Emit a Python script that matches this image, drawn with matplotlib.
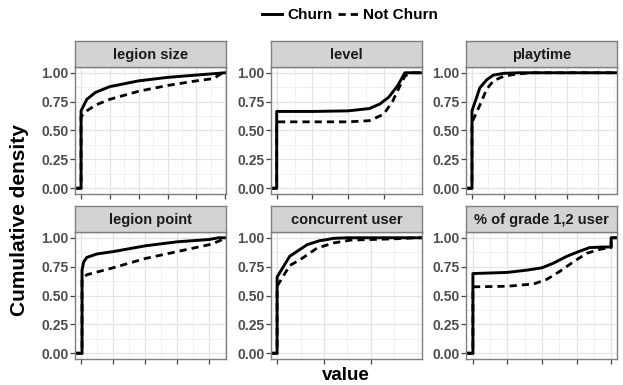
import matplotlib
matplotlib.use('Agg')
import matplotlib.pyplot as plt
from matplotlib.lines import Line2D
from matplotlib.ticker import MultipleLocator

plt.rcParams['font.family'] = ['Liberation Sans', 'DejaVu Sans']
plt.rcParams['font.weight'] = 'bold'

# panel titles (row by row)
panels = ['legion size', 'level', 'playtime',
          'legion point', 'concurrent user', '% of grade 1,2 user']

# x values in tick units (one unit = one x tick)
ls_x_churn = [-0.21, 0, 0, 0.2, 0.5, 1, 2, 3, 4, 5, 5.03]
ls_y_churn = [0, 0, 0.67, 0.77, 0.83, 0.88, 0.93, 0.96, 0.98, 1.0, 1.0]
ls_x_not = [-0.21, 0, 0, 0.2, 0.5, 1, 2, 3, 4, 4.6, 4.85, 5.03]
ls_y_not = [0, 0, 0.62, 0.67, 0.72, 0.77, 0.84, 0.89, 0.93, 0.95, 0.99, 1.0]

lv_x_churn = [-0.16, 0, 0, 1, 2, 2.6, 2.9, 3.15, 3.4, 3.6, 4.08]
lv_y_churn = [0, 0, 0.665, 0.665, 0.67, 0.69, 0.73, 0.79, 0.89, 1.0, 1.0]
lv_x_not = [-0.16, 0, 0, 1, 2, 2.6, 3.0, 3.25, 3.45, 3.6, 3.75, 4.08]
lv_y_not = [0, 0, 0.575, 0.575, 0.575, 0.585, 0.64, 0.75, 0.88, 0.97, 1.0, 1.0]

pt_x_churn = [-0.19, 0, 0, 0.25, 0.47, 0.68, 1.0, 1.5, 4.6]
pt_y_churn = [0, 0, 0.67, 0.87, 0.94, 0.98, 0.995, 1.0, 1.0]
pt_x_not = [-0.19, 0, 0, 0.25, 0.47, 0.68, 1.0, 1.43, 1.95, 4.6]
pt_y_not = [0, 0, 0.57, 0.72, 0.86, 0.93, 0.97, 0.99, 1.0, 1.0]

lp_x_churn = [-0.19, 0.03, 0.03, 0.08, 0.18, 0.5, 1, 2, 3, 4, 4.3, 4.53]
lp_y_churn = [0, 0, 0.72, 0.79, 0.83, 0.86, 0.88, 0.93, 0.965, 0.985, 1.0, 1.0]
lp_x_not = [-0.19, 0.03, 0.03, 0.18, 1, 2, 3, 4, 4.3, 4.53]
lp_y_not = [0, 0, 0.64, 0.68, 0.74, 0.82, 0.88, 0.94, 0.97, 1.0]

cu_x_churn = [-0.13, 0, 0, 0.27, 0.64, 0.91, 1.0, 1.2, 1.5, 3.09]
cu_y_churn = [0, 0, 0.66, 0.84, 0.94, 0.975, 0.98, 0.995, 1.0, 1.0]
cu_x_not = [-0.13, 0, 0, 0.27, 0.49, 0.85, 1.2, 1.57, 2.0, 2.45, 2.98, 3.09]
cu_y_not = [0, 0, 0.58, 0.76, 0.81, 0.91, 0.955, 0.98, 0.985, 0.99, 1.0, 1.0]

gr_x_churn = [-0.2, 0, 0, 1, 1.57, 2, 2.33, 2.72, 3.1, 3.38, 3.77, 4.0, 4.0, 4.17]
gr_y_churn = [0, 0, 0.69, 0.70, 0.72, 0.74, 0.78, 0.84, 0.885, 0.915, 0.92, 0.92, 1.0, 1.0]
gr_x_not = [-0.2, 0, 0, 1, 1.76, 2.14, 2.52, 2.9, 3.29, 3.67, 4.0, 4.0, 4.17]
gr_y_not = [0, 0, 0.575, 0.58, 0.6, 0.64, 0.71, 0.79, 0.865, 0.90, 0.915, 1.0, 1.0]

churn_data = [(ls_x_churn, ls_y_churn), (lv_x_churn, lv_y_churn), (pt_x_churn, pt_y_churn),
              (lp_x_churn, lp_y_churn), (cu_x_churn, cu_y_churn), (gr_x_churn, gr_y_churn)]
not_data = [(ls_x_not, ls_y_not), (lv_x_not, lv_y_not), (pt_x_not, pt_y_not),
            (lp_x_not, lp_y_not), (cu_x_not, cu_y_not), (gr_x_not, gr_y_not)]

# x range and number of ticks for each panel (free x scales)
x_limits = [(-0.21, 5.03), (-0.16, 4.08), (-0.19, 4.6),
            (-0.19, 4.53), (-0.13, 3.09), (-0.2, 4.17)]
x_nticks = [6, 4, 5, 5, 3, 5]
y_ticks = [0, 0.25, 0.5, 0.75, 1.0]
y_labels = ['0.00', '0.25', '0.50', '0.75', '1.00']

W, H = 623, 385
fig = plt.figure(figsize=(W / 100, H / 100), dpi=100)

col_left = [75, 271, 466]
col_w = 151
row_top = [67, 232]
row_h = 127
strip_h = 26

dash = (0, (2.6, 1.8))

for i, name in enumerate(panels):
    r, c = divmod(i, 3)
    left = col_left[c]
    top = row_top[r]
    ax = fig.add_axes([left / W, 1 - (top + row_h) / H, col_w / W, row_h / H])
    ax.set_xlim(*x_limits[i])
    ax.set_ylim(-0.05, 1.05)
    ax.set_xticks(range(x_nticks[i]))
    ax.xaxis.set_minor_locator(MultipleLocator(0.5))
    ax.set_yticks(y_ticks)
    ax.yaxis.set_minor_locator(MultipleLocator(0.125))
    ax.set_xticklabels([])
    ax.set_yticklabels(y_labels)
    ax.grid(True, which='major', color='#e3e3e3', lw=0.9)
    ax.grid(True, which='minor', color='#eeeeee', lw=0.6)
    ax.set_axisbelow(True)
    ax.tick_params(which='major', length=3.5, width=0.9, color='#444444',
                   labelsize=10, labelcolor='#4d4d4d', pad=1)
    ax.tick_params(which='minor', length=0)
    for s in ax.spines.values():
        s.set_color('#7f7f7f')
        s.set_linewidth(1.0)

    xc, yc = churn_data[i]
    xn, yn = not_data[i]
    ax.plot(xn, yn, color='black', lw=2.0, linestyle=dash)
    ax.plot(xc, yc, color='black', lw=2.1)

    # facet strip
    sx = fig.add_axes([left / W, 1 - top / H, col_w / W, strip_h / H])
    sx.set_facecolor('#d3d3d3')
    sx.set_xticks([])
    sx.set_yticks([])
    for s in sx.spines.values():
        s.set_color('#7f7f7f')
        s.set_linewidth(1.0)
    sx.text(0.5, 0.45, name, ha='center', va='center', fontsize=10.5,
            fontweight='bold', color='#1a1a1a', transform=sx.transAxes)

# shared axis titles
fig.text(20 / W, 1 - 220 / H, 'Cumulative density', rotation=90,
         ha='center', va='center', fontsize=15, fontweight='bold')
fig.text(346 / W, 1 - 376 / H, 'value', ha='center', va='center',
         fontsize=13.5, fontweight='bold')

handles = [Line2D([], [], color='black', lw=2.1),
           Line2D([], [], color='black', lw=2.0, linestyle=dash)]
fig.legend(handles, ['Churn', 'Not Churn'], loc='center',
           bbox_to_anchor=(350 / W, 1 - 15 / H), ncol=2, frameon=False,
           handlelength=1.3, columnspacing=0.4, handletextpad=0.35,
           prop={'weight': 'bold', 'size': 11})

fig.savefig('out.png', dpi=100)
